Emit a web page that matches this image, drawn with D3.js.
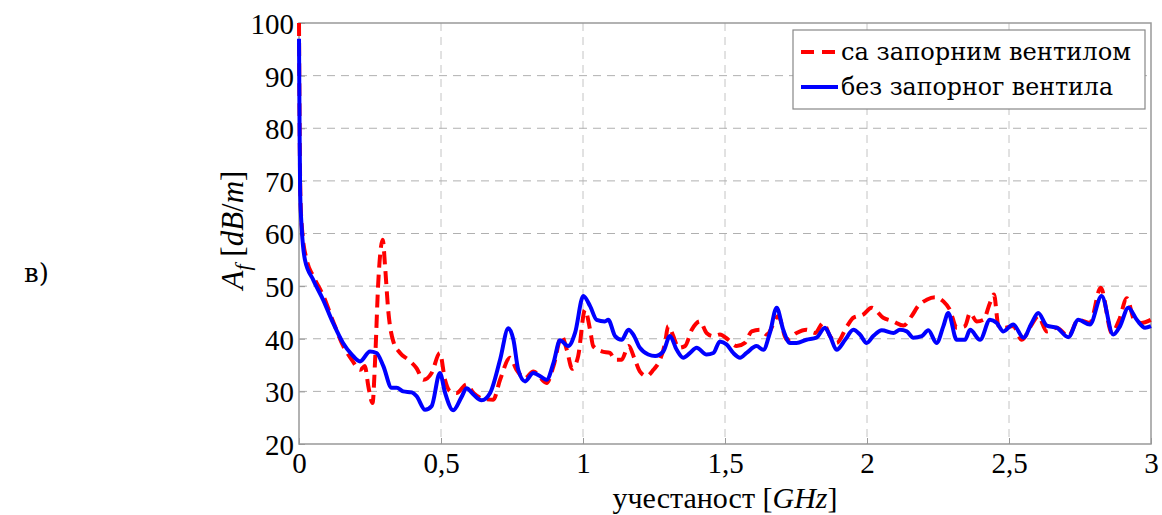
<!DOCTYPE html>
<html>
<head>
<meta charset="utf-8">
<script src="https://cdn.jsdelivr.net/npm/d3@7"></script>
<style>
  body { margin: 0; background: #fff; }
  svg { display: block; }
</style>
</head>
<body>
<div id="chart"></div>
<script>
// chart size
var svgWidth = 1162;
var svgHeight = 515;

var margin = { top: 23, right: 11, bottom: 71, left: 299 };
var width = svgWidth - margin.left - margin.right;
var height = svgHeight - margin.top - margin.bottom;

// data (GHz, dB/m)
var xTicks = [0, 0.5, 1, 1.5, 2, 2.5, 3];
var yTicks = [20, 30, 40, 50, 60, 70, 80, 90, 100];
var seriesNames = ["са запорним вентилом", "без запорног вентила"];

var redX = [0, 0.002, 0.005, 0.012, 0.027, 0.05, 0.086, 0.12, 0.156, 0.186, 0.215, 0.232, 0.244, 0.259, 0.268, 0.279, 0.295, 0.303, 0.314, 0.332, 0.356, 0.385, 0.414, 0.438, 0.467, 0.496, 0.514, 0.532, 0.555, 0.59, 0.614, 0.649, 0.684, 0.708, 0.743, 0.766, 0.796, 0.825, 0.872, 0.896, 0.925, 0.943, 0.962, 0.983, 1.007, 1.025, 1.036, 1.066, 1.095, 1.113, 1.136, 1.16, 1.183, 1.2, 1.224, 1.248, 1.271, 1.289, 1.3, 1.318, 1.336, 1.359, 1.383, 1.412, 1.435, 1.459, 1.482, 1.512, 1.541, 1.57, 1.594, 1.623, 1.647, 1.688, 1.717, 1.752, 1.787, 1.817, 1.846, 1.87, 1.893, 1.93, 1.952, 1.987, 2.016, 2.057, 2.093, 2.128, 2.157, 2.18, 2.21, 2.239, 2.269, 2.292, 2.316, 2.345, 2.363, 2.386, 2.41, 2.433, 2.447, 2.463, 2.486, 2.515, 2.545, 2.58, 2.603, 2.633, 2.668, 2.709, 2.744, 2.785, 2.823, 2.862, 2.888, 2.915, 2.941, 2.965, 3.0];
var redY = [100, 82, 67, 60, 55, 51.9, 48.1, 43.3, 38.6, 36, 34.1, 34.8, 31, 27.8, 36, 50.6, 58.8, 53.8, 45.5, 39.5, 37.3, 36, 34.4, 32.2, 33.5, 37.3, 32.2, 30, 29.7, 31.3, 29.7, 28.6, 28.4, 32.2, 36.4, 34.1, 32.5, 33.8, 31.6, 34.8, 40.5, 37.9, 34.3, 36.7, 45.5, 41.7, 38.6, 37.6, 37.3, 36, 36, 38.6, 36, 33.8, 32.9, 34.1, 36, 39.2, 42.4, 40.5, 38.3, 38.6, 41.7, 43.3, 41.1, 40.5, 40.8, 39.8, 38.6, 39.2, 41.4, 41.7, 40.8, 44.3, 39.8, 41.1, 41.7, 41.1, 43, 40.5, 39.2, 42.4, 44, 44.6, 45.9, 44, 43.3, 42.5, 44.3, 46.2, 47.4, 47.9, 47.1, 45.5, 42.1, 42.4, 44.9, 43.3, 43.6, 46.8, 48.4, 42.4, 42.1, 42.4, 39.8, 42.7, 44.3, 41.4, 42.1, 40.5, 43.6, 43, 49.7, 41.1, 43.6, 47.7, 43.6, 43, 43.6];

var blueX = [0, 0.002, 0.004, 0.01, 0.021, 0.05, 0.085, 0.12, 0.155, 0.186, 0.215, 0.25, 0.273, 0.297, 0.326, 0.344, 0.367, 0.397, 0.414, 0.444, 0.467, 0.496, 0.514, 0.543, 0.573, 0.59, 0.614, 0.643, 0.673, 0.708, 0.737, 0.755, 0.772, 0.796, 0.825, 0.86, 0.872, 0.896, 0.919, 0.948, 0.972, 1.001, 1.025, 1.048, 1.077, 1.089, 1.113, 1.136, 1.16, 1.177, 1.2, 1.23, 1.254, 1.283, 1.306, 1.33, 1.353, 1.377, 1.4, 1.435, 1.459, 1.482, 1.506, 1.529, 1.553, 1.576, 1.611, 1.635, 1.658, 1.682, 1.705, 1.729, 1.752, 1.787, 1.822, 1.852, 1.87, 1.893, 1.923, 1.952, 1.975, 1.999, 2.022, 2.052, 2.093, 2.116, 2.14, 2.163, 2.193, 2.216, 2.245, 2.269, 2.286, 2.316, 2.345, 2.363, 2.398, 2.433, 2.457, 2.48, 2.515, 2.551, 2.58, 2.603, 2.633, 2.668, 2.709, 2.744, 2.785, 2.826, 2.867, 2.891, 2.92, 2.95, 2.979, 3.0];
var blueY = [97, 80, 68, 60.7, 55, 51.2, 47.4, 43, 39.2, 37, 35.7, 37.6, 37.3, 34.8, 30.7, 30.7, 30, 29.8, 29.1, 26.5, 27.2, 33.5, 29.8, 26.4, 29, 30.6, 29.4, 28.3, 29.7, 36, 42, 39.8, 34.1, 31.9, 33.5, 32.5, 32.2, 35.4, 39.7, 38.6, 41.1, 48.1, 46.2, 43.6, 43.3, 43.6, 40.5, 39.8, 41.7, 40.8, 38.3, 37, 36.7, 37.6, 40.5, 37.9, 36.4, 37.3, 38.3, 37, 37.3, 39.5, 38.9, 37.3, 36.4, 37.3, 38.6, 37.9, 41.1, 45.9, 41.7, 39.2, 39.2, 39.8, 40.2, 42.1, 40.5, 37.9, 39.8, 41.7, 40.8, 39.2, 40.5, 41.6, 41.1, 41.7, 41.4, 40.2, 40.5, 41.6, 39.2, 42.4, 44.9, 39.8, 39.8, 41.7, 39.8, 43.6, 43, 41.4, 42.7, 40.2, 43, 44.9, 42.5, 42.1, 40.3, 43.6, 42.7, 48.1, 40.8, 42.4, 45.9, 43.6, 42.1, 42.4];

var redData = redX.map(function(x, i) { return { x: x, y: redY[i] }; });
var blueData = blueX.map(function(x, i) { return { x: x, y: blueY[i] }; });

var svg = d3.select("#chart")
  .append("svg")
  .attr("width", svgWidth)
  .attr("height", svgHeight);

var chartGroup = svg.append("g")
  .attr("transform", `translate(${margin.left}, ${margin.top})`);

var xScale = d3.scaleLinear().domain([0, 3]).range([0, width]);
var yScale = d3.scaleLinear().domain([20, 100]).range([height, 0]);

// grid
chartGroup.append("g")
  .selectAll("line")
  .data(xTicks.slice(1, -1))
  .enter()
  .append("line")
  .attr("x1", d => xScale(d))
  .attr("x2", d => xScale(d))
  .attr("y1", 0)
  .attr("y2", height)
  .attr("stroke", "#c4c4c4")
  .attr("stroke-dasharray", "8,6");

chartGroup.append("g")
  .selectAll("line")
  .data(yTicks.slice(1, -1))
  .enter()
  .append("line")
  .attr("x1", 0)
  .attr("x2", width)
  .attr("y1", d => yScale(d))
  .attr("y2", d => yScale(d))
  .attr("stroke", "#b0b0b0")
  .attr("stroke-dasharray", "8,6");

// axes
var bottomAxis = d3.axisBottom(xScale)
  .tickValues(xTicks)
  .tickSize(-6)
  .tickFormat(d => String(d).replace(".", ","));
var leftAxis = d3.axisLeft(yScale)
  .tickValues(yTicks)
  .tickSize(-6);

var xAxisG = chartGroup.append("g")
  .attr("transform", "translate(0, " + height + ")")
  .call(bottomAxis);
var yAxisG = chartGroup.append("g").call(leftAxis);

[xAxisG, yAxisG].forEach(function(g) {
  g.select(".domain").remove();
  g.selectAll(".tick line").attr("stroke", "#999");
  g.selectAll("text")
    .attr("font-family", "Liberation Serif, serif")
    .attr("font-size", "29px")
    .attr("fill", "#000");
});
xAxisG.selectAll("text").attr("y", 4).attr("dy", "0.85em");
yAxisG.selectAll("text").attr("x", -5).attr("dy", "0.36em");

// box
chartGroup.append("rect")
  .attr("width", width)
  .attr("height", height)
  .attr("fill", "none")
  .attr("stroke", "#999")
  .attr("stroke-width", 1.5);

// lines
var line = d3.line()
  .x(d => xScale(d.x))
  .y(d => yScale(d.y))
  .curve(d3.curveMonotoneX);

chartGroup.append("path")
  .datum(redData)
  .attr("d", line)
  .attr("fill", "none")
  .attr("stroke", "#ff0000")
  .attr("stroke-width", 4)
  .attr("stroke-dasharray", "13,7");

chartGroup.append("path")
  .datum(blueData)
  .attr("d", line)
  .attr("fill", "none")
  .attr("stroke", "#0000ff")
  .attr("stroke-width", 4);

// legend
var legend = chartGroup.append("g")
  .attr("transform", `translate(${793 - margin.left}, ${30 - margin.top})`);

legend.append("rect")
  .attr("width", 352)
  .attr("height", 79)
  .attr("fill", "#fff")
  .attr("stroke", "#888")
  .attr("stroke-width", 1.2);

legend.append("line")
  .attr("x1", 8).attr("x2", 45)
  .attr("y1", 22).attr("y2", 22)
  .attr("stroke", "#ff0000")
  .attr("stroke-width", 4)
  .attr("stroke-dasharray", "13,8");

legend.append("line")
  .attr("x1", 8).attr("x2", 45)
  .attr("y1", 57).attr("y2", 57)
  .attr("stroke", "#0000ff")
  .attr("stroke-width", 4);

legend.selectAll(".legText")
  .data(seriesNames)
  .enter()
  .append("text")
  .attr("x", 48)
  .attr("y", (d, i) => 30 + i * 35)
  .attr("font-family", "DejaVu Serif, serif")
  .attr("font-size", "23.5px")
  .attr("textLength", (d, i) => i === 0 ? 290 : 272)
  .attr("lengthAdjust", "spacingAndGlyphs")
  .text(d => d);

// axis labels
svg.append("text")
  .attr("x", 725)
  .attr("y", 508)
  .attr("text-anchor", "middle")
  .attr("font-family", "Liberation Serif, serif")
  .attr("font-size", "30px")
  .html("учестаност [<tspan font-style='italic'>GHz</tspan>]");

svg.append("text")
  .attr("transform", "translate(243, 230) rotate(-90)")
  .attr("text-anchor", "middle")
  .attr("font-family", "Liberation Serif, serif")
  .attr("font-size", "31px")
  .html("<tspan font-style='italic'>A</tspan><tspan font-style='italic' font-size='22px' dy='7'>f</tspan><tspan dy='-7'> [</tspan><tspan font-style='italic'>dB</tspan>/<tspan font-style='italic'>m</tspan>]");

svg.append("text")
  .attr("x", 24)
  .attr("y", 282)
  .attr("font-family", "DejaVu Serif, serif")
  .attr("font-size", "26px")
  .text("в)");
</script>
</body>
</html>
